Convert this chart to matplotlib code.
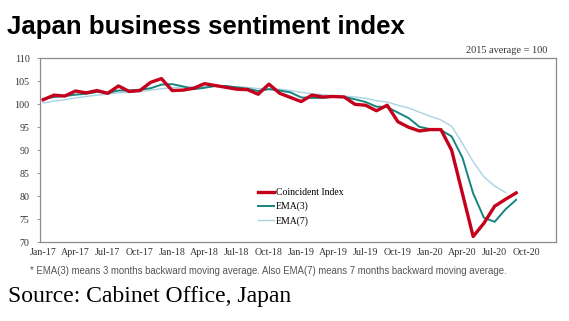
import matplotlib.pyplot as plt
import numpy as np

# months Jan-17 .. Sep-20
tick_labels = ['Jan-17', 'Apr-17', 'Jul-17', 'Oct-17', 'Jan-18', 'Apr-18', 'Jul-18', 'Oct-18',
               'Jan-19', 'Apr-19', 'Jul-19', 'Oct-19', 'Jan-20', 'Apr-20', 'Jul-20', 'Oct-20']

coincident = [101.0, 102.0, 101.8, 102.9, 102.5, 103.0, 102.4, 104.0, 102.8, 103.0, 104.8, 105.6,
              103.0, 103.1, 103.5, 104.5, 104.1, 103.7, 103.3, 103.2, 102.2, 104.4, 102.4, 101.5,
              100.6, 102.0, 101.6, 101.7, 101.6, 100.0, 99.8, 98.6, 99.8, 96.2, 95.0, 94.2,
              94.5, 94.5, 90.0, 80.6, 71.2, 74.1, 77.8, 79.3, 80.7]

ema3 = [101.2, 101.6, 101.8, 102.1, 102.3, 102.7, 102.5, 103.0, 103.0, 103.2, 103.5, 104.3,
        104.4, 103.9, 103.3, 103.6, 104.0, 104.0, 103.7, 103.4, 102.9, 103.3, 103.0, 102.6,
        101.5, 101.4, 101.4, 101.7, 101.6, 101.1, 100.5, 99.5, 99.4, 98.2, 97.0, 95.1,
        94.6, 94.4, 93.0, 88.4, 80.6, 75.3, 74.4, 77.1, 79.2]

ema7 = [100.3, 100.7, 101.0, 101.4, 101.7, 102.0, 102.2, 102.5, 102.6, 102.8, 103.1, 103.4,
        103.6, 103.8, 103.8, 103.8, 103.9, 103.9, 103.8, 103.7, 103.4, 103.4, 103.3, 103.0,
        102.6, 102.3, 102.1, 101.9, 101.8, 101.6, 101.3, 100.8, 100.5, 99.8, 99.2, 98.3,
        97.4, 96.6, 95.2, 91.5, 87.5, 84.2, 82.2, 80.8]

fig = plt.figure(figsize=(5.69, 3.21), dpi=100)
ax = fig.add_axes([0.0703, 0.246, 0.9067, 0.572])

ax.plot(np.arange(len(ema7)), ema7, color='#a9d3e3', lw=1.0, label='EMA(7)', zorder=2)
ax.plot(np.arange(len(ema3)), ema3, color='#16857f', lw=1.4, label='EMA(3)', zorder=3)
ax.plot(np.arange(len(coincident)), coincident, color='#c4001c', lw=2.4, label='Coincident Index', zorder=4)

ax.set_ylim(70, 110)
ax.set_yticks(range(70, 111, 5))
ax.set_xlim(-0.3, 47.7)
ax.set_xticks(np.arange(0, 48, 3))
ax.set_xticklabels(tick_labels)

serif = 'Liberation Serif'
for lab in ax.get_xticklabels() + ax.get_yticklabels():
    lab.set_fontfamily(serif)
    lab.set_fontsize(7.2)
    lab.set_color('#333333')
ax.tick_params(axis='x', length=0, pad=4)
ax.tick_params(axis='y', length=2.5, width=0.6, color='#888888', pad=5)
for s in ax.spines.values():
    s.set_color('#8a8a8a')
    s.set_linewidth(0.9)

h, l = ax.get_legend_handles_labels()
order = [2, 1, 0]
ax.legend([h[i] for i in order], [l[i] for i in order], loc='lower left',
          bbox_to_anchor=(0.405, 0.04), frameon=False, handlelength=1.7,
          handletextpad=0.2, labelspacing=0.5, prop={'family': serif, 'size': 7.0})

fig.text(0.012, 0.895, 'Japan business sentiment index', fontsize=18.6, fontweight='bold',
         family='Liberation Sans', va='baseline')
fig.text(0.962, 0.835, '2015 average = 100', fontsize=7.4, family=serif, ha='right', color='#333333')
fig.text(0.053, 0.155, '* EMA(3) means 3 months backward moving average. Also EMA(7) means 7 months backward moving average.',
         fontsize=6.9, family='Liberation Sans', color='#555555', va='center')
fig.text(0.014, 0.075, 'Source: Cabinet Office, Japan', fontsize=17, family=serif, va='center')

fig.savefig('out.png', dpi=100)
